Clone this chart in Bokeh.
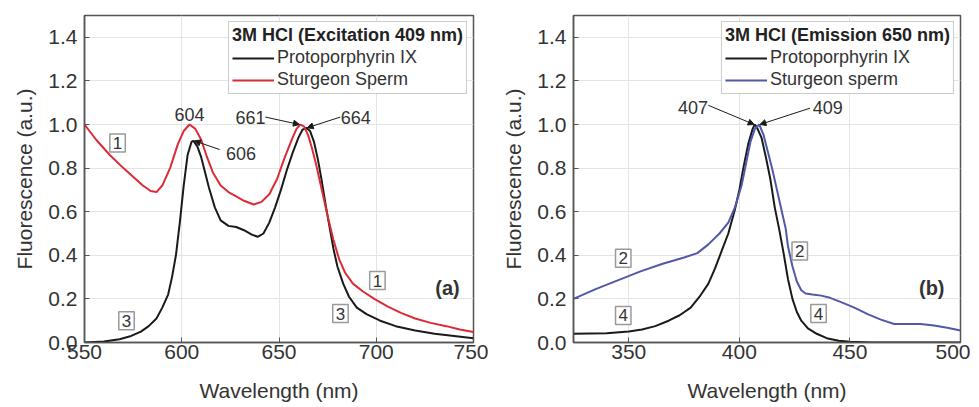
from bokeh.plotting import figure
from bokeh.layouts import row
from bokeh.models import (Range1d, FixedTicker, NumeralTickFormatter, Label, Arrow,
                          NormalHead, Legend, LegendItem)
from bokeh.embed import file_html
from bokeh.resources import INLINE

# ---------------- data: panel (a) excitation 409 nm ----------------
a_red_x = [550, 556, 563, 570, 575, 580, 584, 587, 590, 594, 598, 601, 604, 607, 610, 613,
           616, 620, 624, 628, 632, 637, 641, 645, 649, 653, 657, 659, 661, 663, 665, 667,
           669, 672, 675, 678, 681, 684, 688, 693, 699, 706, 713, 720, 728, 736, 743, 750]
a_red_y = [1.00, 0.93, 0.86, 0.80, 0.76, 0.72, 0.695, 0.69, 0.72, 0.80, 0.91, 0.97, 1.00, 0.98,
           0.93, 0.85, 0.78, 0.72, 0.69, 0.67, 0.65, 0.633, 0.645, 0.68, 0.75, 0.85, 0.94, 0.98,
           1.00, 0.99, 0.95, 0.89, 0.82, 0.70, 0.58, 0.47, 0.38, 0.32, 0.27, 0.235, 0.20, 0.165,
           0.135, 0.11, 0.09, 0.075, 0.06, 0.048]
a_blk_x = [550, 560, 568, 574, 579, 583, 587, 590, 593, 595, 597, 599, 601, 603, 605, 606,
           608, 610, 612, 614, 617, 620, 624, 628, 632, 636, 639, 642, 645, 648, 651, 654,
           657, 660, 662, 664, 666, 668, 670, 672, 674, 676, 678, 680, 683, 686, 690, 695,
           702, 710, 720, 730, 740, 750]
a_blk_y = [0.0, 0.005, 0.015, 0.03, 0.05, 0.075, 0.11, 0.16, 0.22, 0.30, 0.40, 0.55, 0.72, 0.86,
           0.92, 0.925, 0.90, 0.85, 0.78, 0.71, 0.62, 0.56, 0.535, 0.53, 0.515, 0.495, 0.485,
           0.50, 0.55, 0.62, 0.70, 0.79, 0.87, 0.94, 0.975, 0.985, 0.97, 0.92, 0.84, 0.74, 0.63,
           0.53, 0.43, 0.35, 0.27, 0.21, 0.16, 0.13, 0.10, 0.075, 0.055, 0.04, 0.03, 0.02]

# ---------------- data: panel (b) emission 650 nm ----------------
b_blue_x = [325, 335, 345, 355, 365, 375, 381, 386, 391, 395, 398, 401, 403, 405, 407, 409,
            411, 413, 415, 417, 419, 421, 422, 424, 426, 428, 430, 433, 437, 441, 446, 452,
            458, 464, 470, 476, 482, 488, 494, 500]
b_blue_y = [0.20, 0.245, 0.285, 0.325, 0.36, 0.39, 0.41, 0.45, 0.50, 0.55, 0.62, 0.72, 0.82,
            0.92, 0.98, 1.00, 0.95, 0.87, 0.79, 0.70, 0.61, 0.52, 0.44, 0.35, 0.28, 0.24, 0.225,
            0.22, 0.215, 0.205, 0.185, 0.16, 0.13, 0.105, 0.085, 0.085, 0.085, 0.078, 0.068, 0.055]
b_blk_x = [325, 340, 350, 356, 362, 368, 373, 378, 382, 386, 389, 392, 395, 398, 400, 402,
           404, 406, 407, 408, 410, 412, 414, 416, 418, 420, 422, 424, 426, 428, 431, 435,
           440, 445, 450, 460, 480, 500]
b_blk_y = [0.04, 0.042, 0.05, 0.06, 0.075, 0.10, 0.125, 0.16, 0.21, 0.27, 0.34, 0.42, 0.50,
           0.61, 0.70, 0.81, 0.91, 0.98, 1.00, 0.985, 0.94, 0.85, 0.75, 0.62, 0.52, 0.41, 0.29,
           0.20, 0.14, 0.10, 0.065, 0.04, 0.018, 0.008, 0.003, 0.0, 0.0, 0.0]

y_ticks = [0.0, 0.2, 0.4, 0.6, 0.8, 1.0, 1.2, 1.4]
a_x_ticks = [550, 600, 650, 700, 750]
b_x_ticks = [350, 400, 450, 500]

a_title = "3M HCl (Excitation 409 nm)"
b_title = "3M HCl (Emission 650 nm)"
a_names = ["Protoporphyrin IX", "Sturgeon Sperm"]
b_names = ["Protoporphyrin IX", "Sturgeon sperm"]

FONT = "Liberation Sans"
RED = "#dc2b36"
BLUE = "#5059a6"
BLACK = "#1a1a1a"


def make_fig(xr, xticks, border_left, border_right, width):
    p = figure(width=width, height=407, x_range=Range1d(*xr), y_range=Range1d(0, 1.5),
               output_backend="svg", toolbar_location=None,
               min_border_left=border_left, min_border_right=border_right,
               min_border_top=15, min_border_bottom=65)
    p.outline_line_color = "#555555"
    p.outline_line_width = 1.5
    p.xaxis.ticker = FixedTicker(ticks=xticks)
    p.yaxis.ticker = FixedTicker(ticks=y_ticks)
    p.yaxis.formatter = NumeralTickFormatter(format="0.0")
    for ax in (p.xaxis, p.yaxis):
        ax.axis_line_color = "#555555"
        ax.axis_line_width = 1.5
        ax.major_tick_in = 5
        ax.major_tick_out = 0
        ax.major_tick_line_color = "#555555"
        ax.minor_tick_line_color = None
        ax.major_label_text_font = FONT
        ax.major_label_text_font_size = "21px"
        ax.major_label_text_color = "#333333"
        ax.axis_label_text_font = FONT
        ax.axis_label_text_font_size = "21px"
        ax.axis_label_text_font_style = "normal"
        ax.axis_label_text_color = "#333333"
    p.xaxis.major_label_standoff = 2
    p.yaxis.major_label_standoff = 7
    p.xaxis.axis_label_standoff = 17
    p.yaxis.axis_label_standoff = 9
    p.xaxis.axis_label = "Wavelength (nm)"
    p.yaxis.axis_label = "Fluorescence (a.u.)"
    p.grid.grid_line_color = "#e4e4e4"
    p.grid.grid_line_width = 1
    return p


def add_legend(p, title, names, renderers):
    leg = Legend(items=[LegendItem(label=n, renderers=[r]) for n, r in zip(names, renderers)],
                 location="top_right", title=title)
    leg.title_text_font = FONT
    leg.title_text_font_style = "bold"
    leg.title_text_font_size = "18px"
    leg.title_text_color = "#222222"
    leg.title_standoff = 1
    leg.label_text_font = FONT
    leg.label_text_font_size = "18px"
    leg.label_text_color = "#333333"
    leg.glyph_width = 42
    leg.glyph_height = 20
    leg.label_height = 20
    leg.label_standoff = 3
    leg.spacing = 1
    leg.padding = 3
    leg.margin = 6
    leg.border_line_color = "#999999"
    leg.border_line_width = 1
    leg.background_fill_alpha = 1
    p.add_layout(leg)


def text(p, x, y, s, size="18px", bold=False):
    p.add_layout(Label(x=x, y=y, text=s, text_align="center", text_baseline="middle",
                       text_font=FONT, text_font_size=size, text_color="#333333",
                       text_font_style="bold" if bold else "normal"))


def box(p, x, y, s):
    p.add_layout(Label(x=x, y=y, text=s, text_align="center", text_baseline="middle",
                       text_font=FONT, text_font_size="17px", text_color="#333333",
                       border_line_color="#9a9a9a", border_line_width=1.5,
                       background_fill_color="white", padding=3))


def arrow(p, x0, y0, x1, y1):
    p.add_layout(Arrow(end=NormalHead(size=6, fill_color=BLACK, line_color=BLACK),
                       x_start=x0, y_start=y0, x_end=x1, y_end=y1,
                       line_color=BLACK, line_width=1))


def peak(xs, ys):
    i = max(range(len(ys)), key=lambda k: ys[k])
    return xs[i], ys[i]


def local_peak(xs, ys, lo, hi):
    idx = [k for k in range(len(xs)) if lo <= xs[k] <= hi]
    i = max(idx, key=lambda k: ys[k])
    return xs[i], ys[i]


# ---------------- panel (a) ----------------
p1 = make_fig((550, 750), a_x_ticks, 84, 15, 488)
r1 = p1.line(a_blk_x, a_blk_y, line_color=BLACK, line_width=2)
r2 = p1.line(a_red_x, a_red_y, line_color=RED, line_width=2)
add_legend(p1, a_title, a_names, [r1, r2])

rp1 = local_peak(a_red_x, a_red_y, 590, 620)
bp1 = local_peak(a_blk_x, a_blk_y, 590, 620)
rp2 = local_peak(a_red_x, a_red_y, 640, 680)
bp2 = local_peak(a_blk_x, a_blk_y, 640, 680)
text(p1, rp1[0], 1.045, "604")
text(p1, 630.5, 0.865, "606")
arrow(p1, 619.5, 0.885, bp1[0] + 0.5, bp1[1])
text(p1, 635.3, 1.034, "661")
arrow(p1, 643, 1.034, rp2[0] - 0.5, rp2[1])
text(p1, 689.5, 1.034, "664")
arrow(p1, 681.5, 1.034, bp2[0] + 0.5, bp2[1])
box(p1, 567, 0.915, "1")
box(p1, 571.6, 0.10, "3")
box(p1, 700.6, 0.284, "1")
box(p1, 681.6, 0.133, "3")
text(p1, 736.6, 0.25, "(a)", size="20px", bold=True)

# ---------------- panel (b) ----------------
p2 = make_fig((325, 500), b_x_ticks, 85, 10, 482)
s1 = p2.line(b_blk_x, b_blk_y, line_color=BLACK, line_width=2)
s2 = p2.line(b_blue_x, b_blue_y, line_color=BLUE, line_width=2)
add_legend(p2, b_title, b_names, [s1, s2])

bkp = peak(b_blk_x, b_blk_y)
blp = peak(b_blue_x, b_blue_y)
text(p2, 379, 1.08, "407")
arrow(p2, 386, 1.088, bkp[0] - 0.3, bkp[1])
text(p2, 440, 1.08, "409")
arrow(p2, 432, 1.075, blp[0] + 0.3, blp[1])
box(p2, 347.5, 0.386, "2")
box(p2, 427.3, 0.42, "2")
box(p2, 347.5, 0.124, "4")
box(p2, 435.8, 0.133, "4")
text(p2, 487, 0.25, "(b)", size="20px", bold=True)

layout = row(p1, p2)
open("out.html", "w").write(file_html(layout, INLINE))
